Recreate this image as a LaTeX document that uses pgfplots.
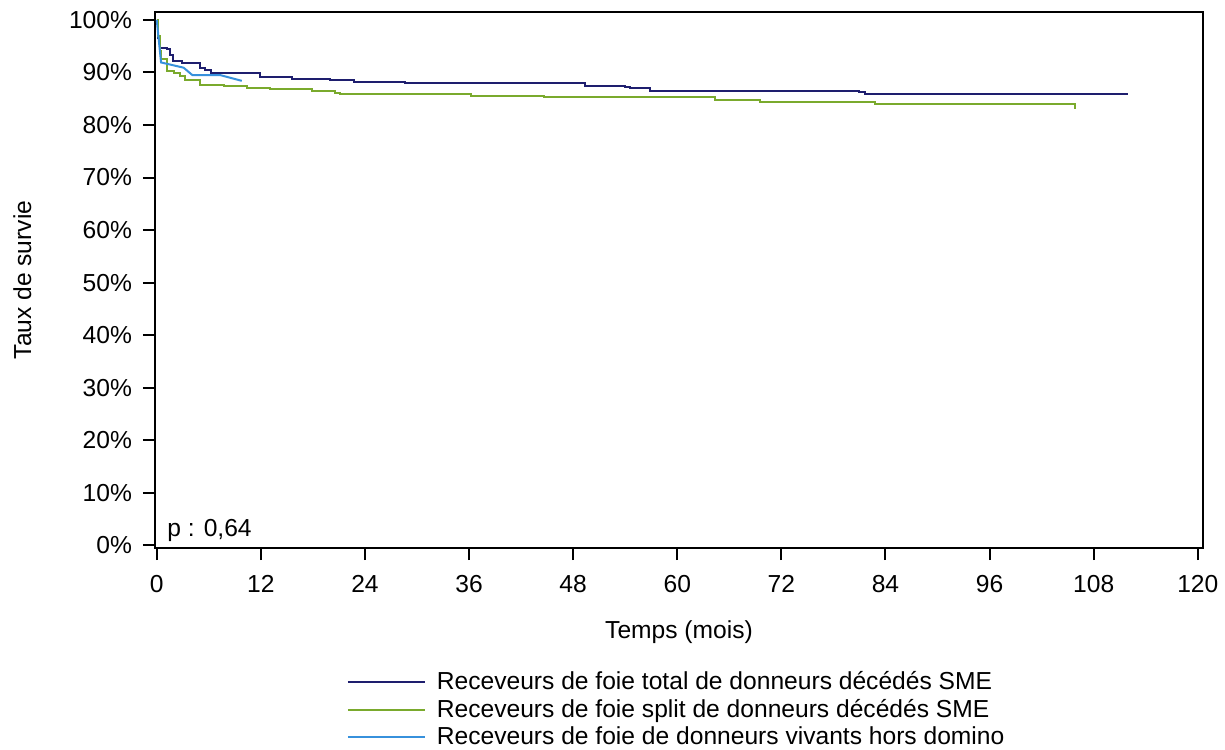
\documentclass[border=0pt]{standalone}
\usepackage{pgfplots}
\pgfplotsset{compat=1.18}
\usepackage{fontspec}
\setmainfont{Liberation Sans}

\definecolor{navyline}{RGB}{30,30,110}
\definecolor{greenline}{RGB}{122,170,45}
\definecolor{blueline}{RGB}{55,145,220}

\begin{document}
\begin{tikzpicture}
\useasboundingbox (-77.5pt,-100.5pt) rectangle (535pt,274pt);
\begin{axis}[
  scale only axis,
  width=524pt, height=268pt,
  xmin=-0.2, xmax=120.6,
  ymin=-0.5, ymax=101.5,
  xtick={0,12,...,120},
  ytick={0,10,...,100},
  yticklabels={0\%,10\%,20\%,30\%,40\%,50\%,60\%,70\%,80\%,90\%,100\%},
  tick align=outside,
  tick pos=left,
  major tick length=6pt,
  axis line style={line width=1pt},
  every tick/.style={line width=1pt, black},
  /pgf/number format/assume math mode=true,
  tick label style={font=\fontsize{12.3}{14}\selectfont},
  yticklabel style={xshift=-2pt},
  xticklabel style={yshift=-4pt},
  label style={font=\fontsize{12.3}{14}\selectfont},
  xlabel={Temps (mois)},
  ylabel={Taux de survie},
  xlabel style={yshift=-7pt},
  ylabel style={yshift=12pt},
  legend cell align={left},
  legend style={
    at={(0.177,-0.215)}, anchor=north west,
    draw=none, fill=none,
    font=\fontsize{12.3}{14}\selectfont,
    row sep=-0.8pt,
  },
  legend image code/.code={\draw[#1] (0pt,0pt) -- (38.5pt,0pt); \path (42pt,0pt);},
]
\addplot [const plot, line width=1pt, navyline]
table {%
0 100
0.1 98
0.2 96.5
0.4 94.7
1.2 94.4
1.5 93.3
1.9 92.2
2.9 91.7
5.0 90.9
5.6 90.4
6.2 89.9
11.9 89.1
15.6 88.8
20.0 88.5
22.7 88.2
28.6 87.9
49.4 87.5
54.0 87.2
54.5 87.0
56.9 86.5
81.0 86.2
81.6 85.8
112 85.8
};
\addlegendentry{Receveurs de foie total de donneurs décédés SME}
\addplot [const plot, line width=1pt, greenline]
table {%
0 100
0.2 97
0.4 94
0.5 92.5
1.2 90.3
2.0 89.8
2.7 89.3
3.3 88.5
5.0 87.7
7.7 87.5
10.4 87.1
13.1 86.9
17.9 86.5
20.5 86.1
21.1 85.8
36.2 85.6
44.6 85.3
64.3 84.8
69.5 84.4
82.8 83.9
105.2 83.9
105.8 83.0
};
\addlegendentry{Receveurs de foie split de donneurs décédés SME}
\addplot [line width=1pt, blueline]
table {%
0 100
0.5 91.9
3.1 90.9
4.1 89.5
7.3 89.5
9.8 88.4
};
\addlegendentry{Receveurs de foie de donneurs vivants hors domino}
\node[anchor=west, font=\fontsize{12.3}{14}\selectfont] at (rel axis cs:0.005,0.033) {p : 0,64};
\end{axis}
\end{tikzpicture}
\end{document}
